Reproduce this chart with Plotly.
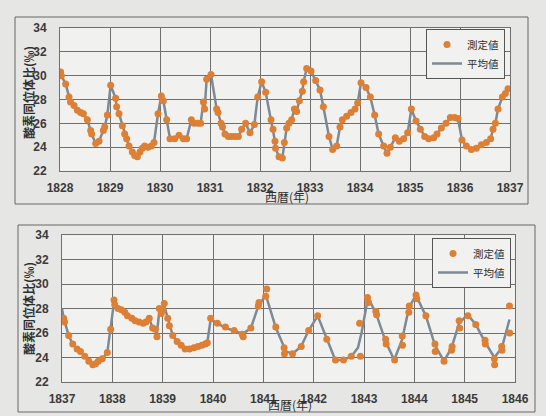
import plotly.graph_objects as go

# ---------------- data ----------------
top_years = [1828.013, 1828.027, 1828.113, 1828.18, 1828.21, 1828.28, 1828.347, 1828.413, 1828.467, 1828.547,
             1828.613, 1828.633, 1828.713, 1828.78, 1828.867, 1828.893, 1828.947, 1829.013, 1829.113, 1829.133,
             1829.18, 1829.247, 1829.293, 1829.333, 1829.38, 1829.447, 1829.493, 1829.547, 1829.6, 1829.647,
             1829.693, 1829.76, 1829.827, 1829.88, 1829.96, 1830.027, 1830.067, 1830.133, 1830.2, 1830.293,
             1830.38, 1830.467, 1830.533, 1830.627, 1830.68, 1830.76, 1830.813, 1830.867, 1830.893, 1830.933,
             1831.02, 1831.133, 1831.16, 1831.22, 1831.25, 1831.3, 1831.367, 1831.433, 1831.5, 1831.567,
             1831.633, 1831.713, 1831.8, 1831.887, 1831.953, 1832.033, 1832.113, 1832.22, 1832.26, 1832.3,
             1832.31, 1832.38, 1832.447, 1832.487, 1832.533, 1832.58, 1832.633, 1832.687, 1832.733, 1832.787,
             1832.847, 1832.873, 1832.933, 1833.02, 1833.113, 1833.2, 1833.267, 1833.38, 1833.453, 1833.533,
             1833.6, 1833.647, 1833.733, 1833.82, 1833.9, 1833.953, 1834.02, 1834.12, 1834.207, 1834.293,
             1834.373, 1834.473, 1834.54, 1834.607, 1834.707, 1834.787, 1834.873, 1834.953, 1835.027, 1835.12,
             1835.207, 1835.293, 1835.373, 1835.473, 1835.54, 1835.627, 1835.72, 1835.807, 1835.893, 1835.96,
             1836.04, 1836.127, 1836.227, 1836.327, 1836.427, 1836.527, 1836.613, 1836.66, 1836.707, 1836.76,
             1836.847, 1836.907, 1836.96]
top_values = [30.3, 30.0, 29.3, 28.2, 27.8, 27.5, 27.1, 26.9, 26.8, 26.3,
              25.4, 25.1, 24.3, 24.5, 25.4, 25.7, 26.7, 29.2, 28.1, 27.4,
              26.8, 25.8, 25.1, 24.7, 24.1, 23.6, 23.3, 23.2, 23.6, 23.9,
              24.1, 24.0, 24.1, 24.4, 26.8, 28.3, 27.9, 26.3, 24.7, 24.7,
              25.0, 24.7, 24.7, 26.3, 26.0, 26.0, 26.0, 27.8, 27.2, 29.7,
              30.1, 27.2, 26.9, 26.0, 25.7, 25.1, 24.9, 24.9, 24.9, 24.9,
              25.5, 26.0, 25.2, 25.9, 28.2, 29.5, 28.6, 26.3, 25.5, 24.5,
              23.9, 23.2, 23.1, 24.4, 25.6, 26.0, 26.3, 27.2, 27.0, 27.9,
              28.7, 29.5, 30.6, 30.4, 29.6, 28.8, 27.4, 24.9, 23.8, 24.1,
              25.7, 26.3, 26.6, 26.9, 27.2, 27.7, 29.4, 29.0, 28.2, 26.7,
              25.1, 24.1, 23.5, 24.0, 24.8, 24.5, 24.7, 25.2, 27.2, 26.2,
              25.5, 24.9, 24.7, 24.8, 25.1, 25.6, 26.0, 26.5, 26.5, 26.4,
              24.6, 24.1, 23.8, 23.9, 24.2, 24.4, 24.7, 25.5, 26.0, 27.2,
              28.2, 28.5, 28.9]
top_mean_years = top_years
top_mean_values = top_values

bot_years = [1837.033, 1837.05, 1837.133, 1837.213, 1837.3, 1837.367, 1837.453, 1837.533, 1837.613, 1837.667,
             1837.72, 1837.8, 1837.9, 1837.967, 1838.033, 1838.047, 1838.113, 1838.18, 1838.247, 1838.3,
             1838.387, 1838.453, 1838.533, 1838.613, 1838.667, 1838.733, 1838.8, 1838.853, 1838.887, 1838.933,
             1838.973, 1839.0, 1839.033, 1839.1, 1839.133, 1839.2, 1839.287, 1839.367, 1839.447, 1839.533,
             1839.62, 1839.7, 1839.78, 1839.847, 1839.887, 1839.953, 1840.087, 1840.247, 1840.42, 1840.58,
             1840.6, 1840.753, 1840.9, 1840.913, 1841.047, 1841.067, 1841.247, 1841.413, 1841.42, 1841.58,
             1841.753, 1841.9, 1842.08, 1842.26, 1842.433, 1842.593, 1842.747, 1842.927, 1842.913, 1843.07,
             1843.09, 1843.235, 1843.25, 1843.43, 1843.44, 1843.608, 1843.76, 1843.765, 1843.89, 1843.9,
             1844.033, 1844.05, 1844.23, 1844.41, 1844.415, 1844.59, 1844.74, 1844.75, 1844.89, 1844.9,
             1845.065, 1845.22, 1845.405, 1845.41, 1845.59, 1845.595, 1845.735, 1845.74, 1845.89, 1845.895]
bot_values = [27.2, 26.9, 25.8, 25.1, 24.7, 24.5, 24.1, 23.7, 23.4, 23.5,
              23.7, 23.9, 24.4, 26.3, 28.7, 28.3, 28.0, 27.9, 27.7, 27.4,
              27.2, 27.0, 26.9, 26.8, 26.9, 27.2, 26.4, 26.3, 25.7, 28.0,
              27.6, 27.9, 28.4, 27.2, 26.6, 25.8, 25.3, 25.0, 24.7, 24.7,
              24.8, 24.9, 25.0, 25.1, 25.2, 27.2, 26.8, 26.5, 26.2, 25.9,
              25.7, 26.4, 28.2, 28.5, 29.0, 29.6, 26.5, 24.8, 24.3, 24.3,
              24.9, 26.2, 27.4, 25.5, 23.8, 23.8, 24.1, 24.1, 26.8, 28.9,
              28.5, 27.75, 27.5, 25.5, 25.1, 23.8, 25.75, 25.0, 27.7, 28.2,
              29.1, 28.8, 27.4, 25.1, 24.5, 23.7, 24.6, 24.9, 27.0, 26.4,
              27.4, 26.7, 25.4, 25.1, 23.9, 23.4, 24.9, 24.6, 28.2, 26.0]

bot_mean_years = [1837.0, 1837.033, 1837.133, 1837.213, 1837.3, 1837.367, 1837.453, 1837.533, 1837.613, 1837.72,
                  1837.8, 1837.9, 1837.967, 1838.033, 1838.113, 1838.18, 1838.247, 1838.387, 1838.453, 1838.533,
                  1838.613, 1838.733, 1838.8, 1838.853, 1838.887, 1838.933, 1839.0, 1839.033, 1839.1, 1839.133,
                  1839.2, 1839.287, 1839.367, 1839.447, 1839.533, 1839.62, 1839.7, 1839.78, 1839.847, 1839.887,
                  1839.953, 1840.087, 1840.247, 1840.42, 1840.58, 1840.753, 1840.9, 1841.05, 1841.25, 1841.45,
                  1841.58, 1841.75, 1841.9, 1842.08, 1842.26, 1842.43, 1842.59, 1842.75, 1842.88, 1842.95,
                  1843.08, 1843.24, 1843.43, 1843.6, 1843.76, 1843.89, 1844.03, 1844.23, 1844.41, 1844.59,
                  1844.74, 1844.89, 1845.06, 1845.22, 1845.4, 1845.59, 1845.74, 1845.89]
bot_mean_values = [28.0, 27.2, 25.8, 25.1, 24.7, 24.5, 24.1, 23.7, 23.4, 23.7,
                   23.9, 24.4, 26.3, 28.5, 28.0, 27.9, 27.6, 27.2, 27.0, 26.9,
                   26.8, 27.2, 26.4, 26.3, 26.0, 27.8, 27.9, 28.2, 27.2, 26.6,
                   25.8, 25.3, 25.0, 24.7, 24.7, 24.8, 24.9, 25.0, 25.1, 25.2,
                   27.1, 26.8, 26.4, 26.2, 25.9, 26.4, 28.2, 29.1, 26.4, 24.5,
                   24.3, 24.9, 26.2, 27.4, 25.5, 23.8, 23.8, 24.1, 24.8, 26.0,
                   28.9, 27.6, 25.3, 23.8, 25.5, 28.0, 29.1, 27.4, 25.0, 23.7,
                   24.8, 26.8, 27.5, 26.7, 25.3, 24.0, 24.8, 27.1]

top_xticks = list(range(1828, 1838))
bot_xticks = list(range(1837, 1847))
y_ticks = [22, 24, 26, 28, 30, 32, 34]

label_measured = "測定値"
label_mean = "平均値"
y_title = "酸素同位体比(‰)"
x_title = "西暦(年)"

# ---------------- styling ----------------
W, H = 546, 416
ORANGE = "#dd8036"
GRAY = "#7d8995"
GRID = "#6f6f6f"
PAPER = "#e6e6e4"
PLOT = "#f1f1ef"
TXT = "#2e2e2e"
TICKFONT = dict(family="Liberation Sans", size=12, color="#3a3a3a", weight="bold")
CJK = "Noto Sans CJK JP"


def px_x(p):
    return p / W


def px_y(p):
    return 1 - p / H


fig = go.Figure()

# top chart
fig.add_trace(go.Scatter(x=top_mean_years, y=top_mean_values, mode="lines", name=label_mean,
                         line=dict(color=GRAY, width=2.5), xaxis="x", yaxis="y",
                         legend="legend", legendrank=2))
fig.add_trace(go.Scatter(x=top_years, y=top_values, mode="markers", name=label_measured,
                         marker=dict(color=ORANGE, size=7), xaxis="x", yaxis="y",
                         legend="legend", legendrank=1))
# bottom chart
fig.add_trace(go.Scatter(x=bot_mean_years, y=bot_mean_values, mode="lines", name=label_mean,
                         line=dict(color=GRAY, width=2.5), xaxis="x2", yaxis="y2",
                         legend="legend2", legendrank=2))
fig.add_trace(go.Scatter(x=bot_years, y=bot_values, mode="markers", name=label_measured,
                         marker=dict(color=ORANGE, size=7), xaxis="x2", yaxis="y2",
                         legend="legend2", legendrank=1))

axis_common = dict(showgrid=True, gridcolor=GRID, gridwidth=1, showline=True, linecolor=GRID,
                   linewidth=1, mirror=True, zeroline=False, ticks="", tickfont=TICKFONT,
                   automargin=False)

legend_common = dict(xanchor="right", yanchor="top", bgcolor=PLOT, bordercolor="#555555",
                     borderwidth=1, font=dict(family=CJK, size=10.5, color=TXT),
                     tracegroupgap=0, itemwidth=30)

fig.update_layout(
    width=W, height=H, margin=dict(l=0, r=0, t=0, b=0, autoexpand=False),
    paper_bgcolor=PAPER, plot_bgcolor=PLOT,
    xaxis=dict(domain=[px_x(60), px_x(510)], range=[1828, 1837], tickvals=top_xticks,
               anchor="y", ticklabelstandoff=6, **axis_common),
    yaxis=dict(domain=[px_y(171), px_y(28)], range=[22, 34], tickvals=y_ticks,
               anchor="x", ticklabelstandoff=10, **axis_common),
    xaxis2=dict(domain=[px_x(62), px_x(515)], range=[1837, 1846], tickvals=bot_xticks,
                anchor="y2", ticklabelstandoff=6, **axis_common),
    yaxis2=dict(domain=[px_y(382), px_y(235)], range=[22, 34], tickvals=y_ticks,
                anchor="x2", ticklabelstandoff=10, **axis_common),
    legend=dict(x=px_x(505), y=px_y(29), **legend_common),
    legend2=dict(x=px_x(511), y=px_y(238), **legend_common),
    showlegend=True,
)

# outer frames of each chart
fig.add_shape(type="rect", xref="paper", yref="paper",
              x0=px_x(15), x1=px_x(528), y0=px_y(204), y1=px_y(17),
              line=dict(color="#666666", width=1), fillcolor="rgba(0,0,0,0)", layer="below")
fig.add_shape(type="rect", xref="paper", yref="paper",
              x0=px_x(18), x1=px_x(535), y0=px_y(412), y1=px_y(225),
              line=dict(color="#666666", width=1), fillcolor="rgba(0,0,0,0)", layer="below")

# axis titles
for cy in (93, 309):
    fig.add_annotation(text=y_title, xref="paper", yref="paper", x=px_x(28), y=px_y(cy),
                       xanchor="center", yanchor="middle",
                       textangle=-90, showarrow=False,
                       font=dict(family=CJK, size=12, color=TXT, weight="bold"))
fig.add_annotation(text=x_title, xref="paper", yref="paper", x=px_x(287), y=px_y(196),
                   xanchor="center", yanchor="middle",
                   showarrow=False, font=dict(family=CJK, size=12, color=TXT))
fig.add_annotation(text=x_title, xref="paper", yref="paper", x=px_x(290), y=px_y(404),
                   xanchor="center", yanchor="middle",
                   showarrow=False, font=dict(family=CJK, size=12, color=TXT))

fig.write_html("out.html", config={"displayModeBar": False},
               post_script="document.body.style.margin='0';")
